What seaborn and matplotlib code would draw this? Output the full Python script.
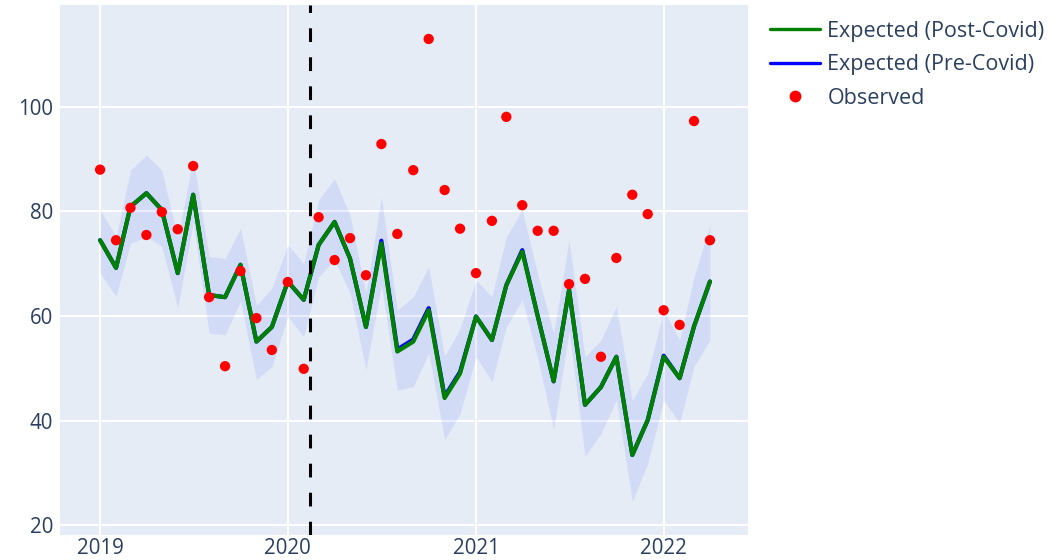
import pandas as pd
import matplotlib
matplotlib.use("Agg")
import matplotlib.pyplot as plt
import seaborn as sns
from matplotlib.lines import Line2D

# monthly series, Jan 2019 .. Apr 2022
months = pd.date_range("2019-01-01", "2022-04-01", freq="MS")

observed = [88.0, 74.5, 80.7, 75.5, 79.9, 76.6, 88.7, 63.6, 50.4, 68.6,
            59.6, 53.5, 66.5, 49.9, 78.9, 70.7, 74.9, 67.8, 92.9, 75.7,
            87.9, 113.0, 84.1, 76.7, 68.2, 78.2, 98.1, 81.2, 76.3, 76.3,
            66.1, 67.1, 52.2, 71.1, 83.2, 79.5, 61.1, 58.3, 97.3, 74.5]

expected_post = [74.5, 69.2, 80.9, 83.5, 80.3, 68.2, 83.2, 64.0, 63.6, 69.8,
                 55.1, 57.9, 66.6, 63.1, 73.6, 78.0, 71.0, 57.9, 73.9, 53.2,
                 55.1, 61.1, 44.3, 49.0, 59.9, 55.4, 65.9, 72.3, 60.0, 47.5,
                 65.0, 43.0, 46.4, 52.2, 33.4, 40.1, 52.2, 48.1, 58.0, 66.6]

expected_pre = [74.5, 69.2, 80.9, 83.5, 80.3, 68.2, 83.2, 64.0, 63.6, 69.8,
                55.1, 57.9, 66.6, 63.1, 73.6, 78.0, 71.0, 57.9, 74.4, 53.6,
                55.5, 61.5, 44.6, 49.3, 59.9, 55.4, 65.9, 72.6, 60.0, 47.5,
                65.0, 43.0, 46.4, 52.2, 33.4, 40.1, 52.4, 48.1, 58.0, 66.6]

band_upper = [80.3, 75.2, 87.9, 90.8, 87.9, 75.0, 90.2, 71.4, 71.0, 76.8,
              62.1, 65.3, 73.6, 70.1, 82.2, 86.3, 79.3, 64.4, 82.8, 61.1,
              63.7, 69.4, 52.3, 57.6, 66.9, 63.7, 75.2, 80.3, 68.0, 56.7,
              74.5, 52.2, 55.4, 61.8, 43.9, 49.0, 61.1, 55.4, 67.5, 77.4]

band_lower = [68.2, 63.7, 73.9, 75.2, 73.3, 61.5, 77.8, 56.7, 56.4, 62.8,
              47.8, 50.3, 59.9, 56.0, 67.5, 70.7, 64.4, 49.7, 65.9, 45.8,
              46.5, 52.9, 36.3, 41.3, 52.2, 47.4, 57.9, 63.1, 52.0, 38.2,
              57.0, 33.1, 37.5, 43.9, 24.5, 31.8, 43.9, 39.5, 50.3, 55.4]

covid_start = pd.Timestamp("2020-02-13")
year_ticks = pd.to_datetime(["2019-01-01", "2020-01-01", "2021-01-01", "2022-01-01"])
year_labels = ["2019", "2020", "2021", "2022"]
y_ticks = [20, 40, 60, 80, 100]

df = pd.DataFrame({
    "date": months,
    "observed": observed,
    "post": expected_post,
    "pre": expected_pre,
    "upper": band_upper,
    "lower": band_lower,
})

text_color = "#2a3f5f"
sns.set_theme(style="darkgrid", rc={
    "axes.facecolor": "#E5ECF6",
    "grid.color": "white",
    "grid.linewidth": 1.5,
    "axes.edgecolor": "none",
})
plt.rcParams["font.family"] = ["Open Sans", "DejaVu Sans"]

fig = plt.figure(figsize=(10.53, 5.6), dpi=100)
ax = fig.add_axes([60 / 1053, 25 / 560, 688 / 1053, 530 / 560])

ax.fill_between(df["date"], df["lower"], df["upper"],
                color=(0.25, 0.35, 1.0), alpha=0.11, lw=0, zorder=2)
sns.lineplot(data=df, x="date", y="pre", color="blue", lw=3, ax=ax, zorder=3)
sns.lineplot(data=df, x="date", y="post", color="green", lw=3, ax=ax, zorder=3)
sns.scatterplot(data=df, x="date", y="observed", color="red", s=55,
                edgecolor="none", ax=ax, zorder=4)
ax.axvline(covid_start, color="black", lw=2.2, dashes=(4.5, 5.0), zorder=5)

ax.set_xlim(pd.Timestamp("2018-10-15"), pd.Timestamp("2022-06-14"))
ax.set_ylim(18.1, 119.5)
ax.set_xticks(year_ticks)
ax.set_xticklabels(year_labels)
ax.set_yticks(y_ticks)
ax.set_xlabel("")
ax.set_ylabel("")
ax.tick_params(axis="both", length=0, labelsize=14.8, labelcolor=text_color)
ax.tick_params(axis="y", pad=5)
ax.tick_params(axis="x", pad=2)

handles = [
    Line2D([], [], color="green", lw=2.4),
    Line2D([], [], color="blue", lw=2.4),
    Line2D([], [], color="red", marker="o", ls="none", markersize=7.5),
]
labels = ["Expected (Post-Covid)", "Expected (Pre-Covid)", "Observed"]
fig.legend(handles, labels, loc="upper left", bbox_to_anchor=(770 / 1053, 1 - 21 / 560),
           frameon=False, fontsize=15.5, labelcolor=text_color, handlelength=2.3,
           handletextpad=0.37, labelspacing=0.57, borderpad=0, borderaxespad=0)

fig.savefig("out.png", dpi=100)
